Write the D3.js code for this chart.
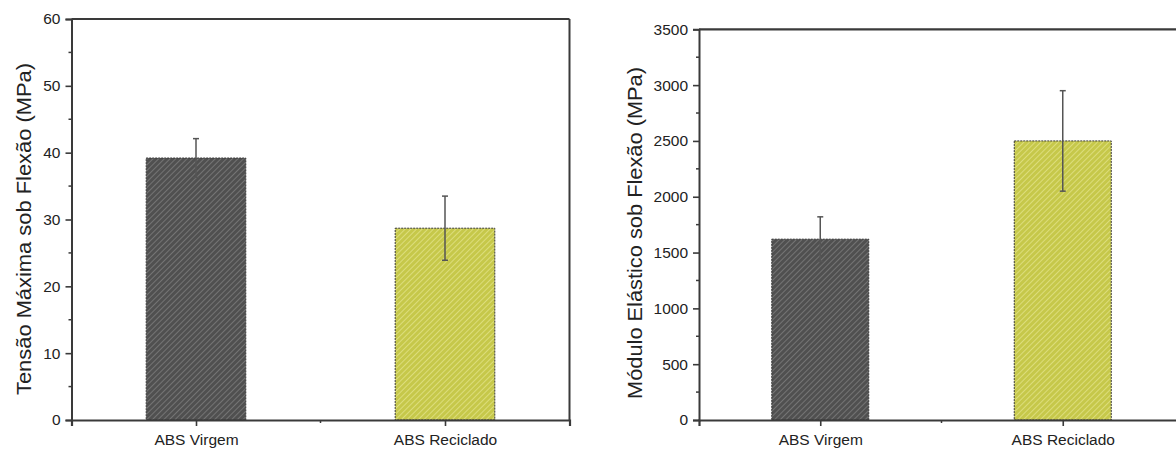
<!DOCTYPE html>
<html><head><meta charset="utf-8">
<script src="https://cdn.jsdelivr.net/npm/d3@7"></script>
<style>
html,body{margin:0;padding:0;background:#fff;overflow:hidden}
text{font-family:"Liberation Sans",Arial,sans-serif;fill:#222}
</style></head>
<body><svg id="c" width="1176" height="451"></svg>
<script>
const categories = ["ABS Virgem", "ABS Reciclado"];
const tensaoValues = [39.2, 28.7];
const tensaoErrors = [2.9, 4.8];
const moduloValues = [1620, 2500];
const moduloErrors = [200, 450];
const tensaoTicks = [0, 10, 20, 30, 40, 50, 60];
const moduloTicks = [0, 500, 1000, 1500, 2000, 2500, 3000, 3500];
const barColors = ["#505050", "#c6c84a"];
const hatchColors = ["#8c8c8c", "#ecec9c"];

const svg = d3.select("#c");
const defs = svg.append("defs");
barColors.forEach((c, i) => {
  const p = defs.append("pattern").attr("id", "h" + i).attr("patternUnits", "userSpaceOnUse")
    .attr("width", 4).attr("height", 4).attr("patternTransform", "rotate(45)");
  p.append("rect").attr("width", 4).attr("height", 4).attr("fill", c);
  p.append("line").attr("x1", 0).attr("y1", 0).attr("x2", 0).attr("y2", 4)
    .attr("stroke", hatchColors[i]).attr("stroke-width", 1.2);
});

function chart(o) {
  const g = svg.append("g");
  const x = d3.scaleLinear().domain([0.5, 2.5]).range([o.x0, o.x1]);
  const y = d3.scaleLinear().domain([0, o.max]).range([o.y0, o.y1]);
  const bw = x(1.4) - x(1);
  g.selectAll("rect.bar").data(o.values).join("rect")
    .attr("x", (d, i) => x(i + 1) - bw / 2).attr("width", bw)
    .attr("y", d => y(d)).attr("height", d => y(0) - y(d))
    .attr("fill", (d, i) => "url(#h" + i + ")")
    .attr("stroke", "#3a3a3a").attr("stroke-width", 1).attr("stroke-dasharray", "2,1");
  o.values.forEach((v, i) => {
    const cx = x(i + 1), e = o.errors[i];
    g.append("line").attr("x1", cx).attr("x2", cx).attr("y1", y(v + e)).attr("y2", y(v - e))
      .attr("stroke", "#555").attr("stroke-width", 1.5);
    [v + e, v - e].forEach(t => g.append("line").attr("x1", cx - 3).attr("x2", cx + 3)
      .attr("y1", y(t)).attr("y2", y(t)).attr("stroke", "#555").attr("stroke-width", 1.5));
  });
  const fc = "#3a3a3a";
  g.append("line").attr("x1", o.x0).attr("x2", o.x1).attr("y1", o.y1).attr("y2", o.y1).attr("stroke", fc).attr("stroke-width", 2.2);
  g.append("line").attr("x1", o.x1).attr("x2", o.x1).attr("y1", o.y1).attr("y2", o.y0).attr("stroke", fc).attr("stroke-width", 2);
  const ya = d3.axisLeft(y).tickValues(o.ticks).tickSize(6).tickPadding(5).tickFormat(d3.format("d"));
  const yg = g.append("g").attr("transform", `translate(${o.x0},0)`).call(ya);
  yg.select(".domain").attr("stroke", fc).attr("stroke-width", 2);
  yg.selectAll(".tick line").attr("stroke", fc).attr("stroke-width", 1.6);
  yg.selectAll("text").attr("font-size", 15.5).attr("fill", "#222");
  const step = o.ticks[1] - o.ticks[0];
  o.ticks.slice(0, -1).forEach(t => g.append("line").attr("x1", o.x0 - 3).attr("x2", o.x0)
    .attr("y1", y(t + step / 2)).attr("y2", y(t + step / 2)).attr("stroke", fc).attr("stroke-width", 1.5));
  const xa = d3.axisBottom(x).tickValues([1, 2]).tickSize(6).tickPadding(8).tickFormat((d) => categories[d - 1]);
  const xg = g.append("g").attr("transform", `translate(0,${o.y0})`).call(xa);
  xg.select(".domain").attr("stroke", fc).attr("stroke-width", 2.2);
  xg.selectAll(".tick line").attr("stroke", fc).attr("stroke-width", 1.6);
  xg.selectAll("text").attr("font-size", 15.5).attr("fill", "#222");
  g.append("line").attr("x1", x(1.5)).attr("x2", x(1.5)).attr("y1", o.y0).attr("y2", o.y0 + 3)
    .attr("stroke", fc).attr("stroke-width", 1.5);
  g.append("text").attr("transform", `translate(${o.tx},${o.ty}) rotate(-90)`)
    .attr("text-anchor", "middle").attr("dominant-baseline", "central")
    .attr("font-size", 20).attr("textLength", 332).attr("lengthAdjust", "spacingAndGlyphs")
    .text(o.title);
}

chart({x0: 71.5, x1: 569.5, y0: 420, y1: 19, max: 60, values: tensaoValues, errors: tensaoErrors,
  ticks: tensaoTicks, title: "Tensão Máxima sob Flexão (MPa)", tx: 24, ty: 229});
chart({x0: 699, x1: 1184, y0: 420, y1: 29.3, max: 3500, values: moduloValues, errors: moduloErrors,
  ticks: moduloTicks, title: "Módulo Elástico sob Flexão (MPa)", tx: 635, ty: 233});
</script></body></html>
